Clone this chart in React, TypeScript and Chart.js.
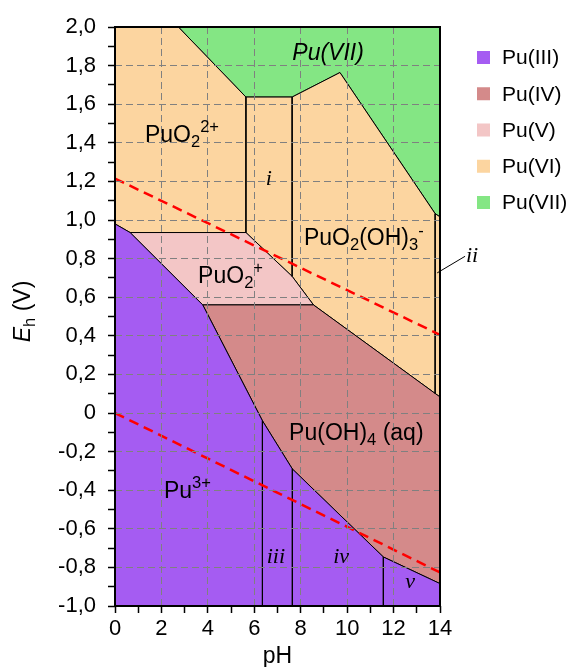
import React, { useEffect, useRef } from 'react';
import { Chart, registerables } from 'chart.js';

Chart.register(...registerables);

type P = [number, number];

const SANS = "'Liberation Sans', Arial, sans-serif";
const SERIF = "'Liberation Serif', 'DejaVu Serif', serif";

// Region polygons (pH, Eh in V)
const puVII: P[] = [[2.73, 2.0], [14, 2.0], [14, 1.016], [13.79, 1.033], [9.69, 1.764], [7.63, 1.637], [5.64, 1.637]];
const puVI: P[] = [[0, 2.0], [2.73, 2.0], [5.64, 1.637], [7.63, 1.637], [9.69, 1.764], [13.79, 1.033], [14, 1.016], [14, 0.083], [8.55, 0.56], [7.63, 0.708], [5.64, 0.935], [0.65, 0.935], [0, 0.98]];
const puV: P[] = [[0.65, 0.935], [5.64, 0.935], [7.63, 0.708], [8.55, 0.56], [3.78, 0.56]];
const puIV: P[] = [[3.78, 0.56], [8.55, 0.56], [14, 0.083], [14, -0.884], [11.56, -0.746], [7.64, -0.29], [6.35, -0.04]];
const puIII: P[] = [[0, 0.98], [0.65, 0.935], [3.78, 0.56], [6.35, -0.04], [7.64, -0.29], [11.56, -0.746], [14, -0.884], [14, -1.0], [0, -1.0]];

// Species boundaries inside one oxidation state
const dividers: P[][] = [
  [[5.64, 1.637], [5.64, 0.935]],
  [[7.63, 1.637], [7.63, 0.708]],
  [[13.79, 1.033], [13.79, 0.101]],
  [[6.35, -0.04], [6.35, -1.0]],
  [[7.64, -0.29], [7.64, -1.0]],
  [[11.56, -0.746], [11.56, -1.0]],
];

// Water stability lines
const o2Line: P[] = [[0, 1.215], [14, 0.405]];
const h2Line: P[] = [[0, 0], [14, -0.826]];

// Leader line for label "ii"
const leaderII: P[] = [[13.88, 0.726], [15.08, 0.812]];

const legendNames = ['Pu(III)', 'Pu(IV)', 'Pu(V)', 'Pu(VI)', 'Pu(VII)'];
const legendColors = ['#a55cf2', '#d48a8a', '#f3c6c6', '#fcd5a0', '#84e684'];
const regionPolys = [puIII, puIV, puV, puVI, puVII];

type Part = [string, 'n' | 'sub' | 'sup', boolean?];
type Lbl = { parts: Part[]; x: number; y: number; align: 'left' | 'center'; font: string; size: number };

const regionLabels: Lbl[] = [
  { parts: [['Pu(VII)', 'n', true]], x: 9.18, y: 1.828, align: 'center', font: SANS, size: 23 },
  { parts: [['PuO', 'n'], ['2', 'sub'], ['2+', 'sup']], x: 1.29, y: 1.404, align: 'left', font: SANS, size: 23 },
  { parts: [['i', 'n', true]], x: 6.63, y: 1.18, align: 'center', font: SERIF, size: 22 },
  { parts: [['PuO', 'n'], ['2', 'sub'], ['(OH)', 'n'], ['3', 'sub'], ['-', 'sup']], x: 8.14, y: 0.869, align: 'left', font: SANS, size: 23 },
  { parts: [['PuO', 'n'], ['2', 'sub'], ['+', 'sup']], x: 3.58, y: 0.673, align: 'left', font: SANS, size: 23 },
  { parts: [['Pu(OH)', 'n'], ['4', 'sub'], [' (aq)', 'n']], x: 7.5, y: -0.14, align: 'left', font: SANS, size: 23 },
  { parts: [['Pu', 'n'], ['3+', 'sup']], x: 2.11, y: -0.441, align: 'left', font: SANS, size: 23 },
  { parts: [['iii', 'n', true]], x: 6.93, y: -0.778, align: 'center', font: SERIF, size: 22 },
  { parts: [['iv', 'n', true]], x: 9.74, y: -0.778, align: 'center', font: SERIF, size: 22 },
  { parts: [['v', 'n', true]], x: 12.71, y: -0.907, align: 'center', font: SERIF, size: 22 },
  { parts: [['ii', 'n', true]], x: 15.12, y: 0.781, align: 'left', font: SERIF, size: 22 },
];

const GRID = '#808080';
const CLEAR = 'rgba(0,0,0,0)';

function toXY(pts: P[]) {
  return pts.map(([x, y]) => ({ x, y }));
}

function drawRich(ctx: CanvasRenderingContext2D, parts: Part[], x: number, y: number, fs: number, family: string, align: 'left' | 'center') {
  const segs = parts.map(([t, m, it]) => {
    const size = m === 'n' ? fs : fs * 0.72;
    const font = `${it ? 'italic ' : ''}${size}px ${family}`;
    ctx.font = font;
    return { t, m, font, w: ctx.measureText(t).width };
  });
  const total = segs.reduce((a, s) => a + s.w, 0);
  let cx = align === 'center' ? x - total / 2 : x;
  ctx.textAlign = 'left';
  ctx.textBaseline = 'alphabetic';
  for (const s of segs) {
    ctx.font = s.font;
    const dy = s.m === 'sub' ? fs * 0.22 : s.m === 'sup' ? -fs * 0.42 : 0;
    ctx.fillText(s.t, cx, y + dy);
    cx += s.w;
  }
}

const annotationPlugin = {
  id: 'annot',
  afterDraw(chart: any) {
    const ctx: CanvasRenderingContext2D = chart.ctx;
    const xs = chart.scales.x;
    const ys = chart.scales.y;
    const area = chart.chartArea;
    ctx.save();
    // frame
    ctx.strokeStyle = '#000';
    ctx.lineWidth = 2;
    ctx.setLineDash([]);
    ctx.strokeRect(area.left, area.top, area.right - area.left, area.bottom - area.top);
    // region labels
    ctx.fillStyle = '#000';
    for (const l of regionLabels) {
      drawRich(ctx, l.parts, xs.getPixelForValue(l.x), ys.getPixelForValue(l.y), l.size, l.font, l.align);
    }
    // axis titles
    drawRich(ctx, [['pH', 'n']], (area.left + area.right) / 2, 663, 23, SANS, 'center');
    ctx.save();
    ctx.translate(30, (area.top + area.bottom) / 2 - 5);
    ctx.rotate(-Math.PI / 2);
    drawRich(ctx, [['E', 'n', true], ['h', 'sub'], [' (V)', 'n']], 0, 0, 23, SANS, 'center');
    ctx.restore();
    // legend
    const lx = area.right + 37;
    legendNames.forEach((name, i) => {
      const cy = area.top + 30.5 + i * 36.25;
      ctx.fillStyle = legendColors[i];
      ctx.fillRect(lx, cy - 6.5, 13, 13);
      ctx.fillStyle = '#000';
      ctx.font = `21px ${SANS}`;
      ctx.textAlign = 'left';
      ctx.textBaseline = 'middle';
      ctx.fillText(name, lx + 25, cy + 1);
    });
    ctx.restore();
  },
};

export default function App() {
  const ref = useRef<HTMLCanvasElement>(null);
  useEffect(() => {
    if (!ref.current) return;
    const datasets: any[] = [];
    datasets.push({ data: toXY(o2Line), borderColor: '#ff0000', borderWidth: 2.5, borderDash: [10, 6], fill: false, order: 0 });
    datasets.push({ data: toXY(h2Line), borderColor: '#ff0000', borderWidth: 2.5, borderDash: [10, 6], fill: false, order: 0 });
    datasets.push({ data: toXY(leaderII), borderColor: '#000', borderWidth: 1, fill: false, clip: false, order: 1 });
    dividers.forEach((d) => datasets.push({ data: toXY(d), borderColor: '#000', borderWidth: 1, fill: false, order: 1 }));
    regionPolys.forEach((poly, i) => {
      datasets.push({
        label: legendNames[i],
        data: toXY([...poly, poly[0]]),
        borderColor: '#000',
        borderWidth: 1,
        backgroundColor: legendColors[i],
        fill: 'shape',
        order: 2,
      });
    });
    const chart = new Chart(ref.current, {
      type: 'line',
      data: { datasets },
      options: {
        animation: false,
        responsive: false,
        maintainAspectRatio: false,
        devicePixelRatio: 1,
        layout: { padding: { top: 27, right: 130, left: 0, bottom: 0 } },
        elements: { point: { radius: 0, hoverRadius: 0 }, line: { tension: 0 } },
        plugins: { legend: { display: false }, tooltip: { enabled: false } },
        events: [],
        scales: {
          x: {
            type: 'linear',
            min: 0,
            max: 14,
            afterFit: (s: any) => { s.height = 61; },
            ticks: {
              stepSize: 1,
              autoSkip: false,
              maxRotation: 0,
              padding: 3,
              color: '#000',
              font: { size: 22, family: SANS },
              callback: (v: any) => (Math.round(Number(v)) % 2 === 0 ? String(Math.round(Number(v))) : ''),
            },
            grid: {
              z: 1,
              color: (c: any) => (c.tick && Math.round(c.tick.value) % 2 === 0 ? GRID : CLEAR),
              lineWidth: 1,
              tickColor: '#000',
              tickWidth: 1.5,
              tickLength: 7,
            },
            border: { display: false, dash: [7, 4] },
          },
          y: {
            type: 'linear',
            min: -1,
            max: 2,
            afterFit: (s: any) => { s.width = 115; },
            ticks: {
              stepSize: 0.1,
              autoSkip: false,
              padding: 12,
              color: '#000',
              font: { size: 22, family: SANS },
              callback: (v: any) => {
                const n = Math.round(Number(v) * 10);
                if (n % 2 !== 0) return '';
                if (n === 0) return '0';
                return (n / 10).toFixed(1).replace('.', ',');
              },
            },
            grid: {
              z: 1,
              color: (c: any) => (c.tick && Math.round(c.tick.value * 10) % 2 === 0 ? GRID : CLEAR),
              lineWidth: 1,
              tickColor: '#000',
              tickWidth: 1.5,
              tickLength: 7,
            },
            border: { display: false, dash: [7, 4] },
          },
        },
      } as any,
      plugins: [annotationPlugin],
    });
    return () => chart.destroy();
  }, []);
  return (
    <div style={{ position: 'absolute', left: 0, top: 0, width: 570, height: 667, background: '#fff' }}>
      <canvas ref={ref} width={570} height={667} style={{ display: 'block' }} />
    </div>
  );
}
